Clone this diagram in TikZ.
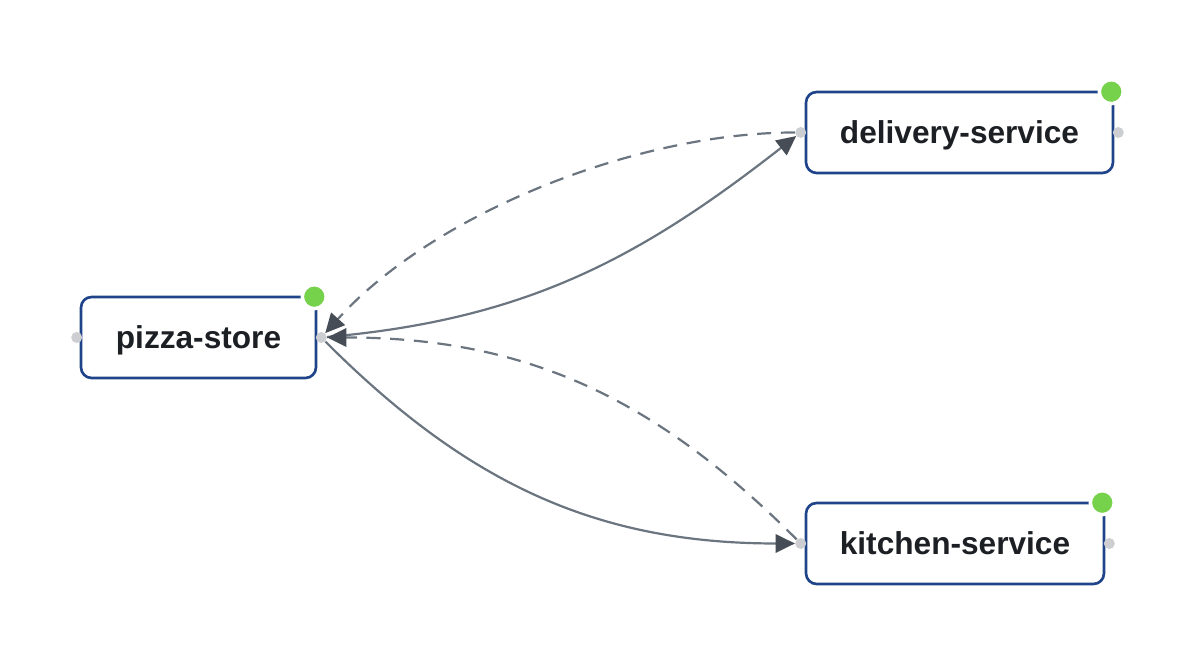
\documentclass[tikz,border=0pt]{standalone}
\usepackage{fontspec}
\setsansfont{Liberation Sans}
\usetikzlibrary{arrows.meta}
\definecolor{boxblue}{HTML}{1F4489}
\definecolor{dotgreen}{HTML}{77D24B}
\definecolor{portgray}{HTML}{CDCED1}
\definecolor{linegray}{HTML}{6B7580}
\definecolor{tipgray}{HTML}{464D56}
\definecolor{textdark}{HTML}{1C1F24}
\begin{document}
\begin{tikzpicture}[x=0.02cm,y=0.02cm,
service/.style={draw=boxblue, line width=1.5pt, rounded corners=6pt, fill=white, minimum height=1.62cm, text height=12pt, text depth=0pt, font=\sffamily\bfseries\fontsize{18}{22}\selectfont, text=textdark},
status/.style={circle, fill=dotgreen, draw=white, line width=2pt, minimum size=0.48cm, inner sep=0pt},
port/.style={circle, fill=portgray, minimum size=0.22cm, inner sep=0pt},
flow/.style={draw=linegray, line width=1.25pt, -{Triangle[length=11pt,width=10.5pt,color=tipgray]}},
reply/.style={flow, dash pattern=on 8pt off 5.5pt}]
\useasboundingbox[fill=white] (0,0) rectangle (1200,668);
\node[service, minimum width=4.7cm] (pizza) at (198.5,330.5) {pizza-store};
\node[service, minimum width=6.14cm] (delivery) at (959.5,535.5) {delivery-service};
\node[service, minimum width=5.96cm] (kitchen) at (955,124.5) {kitchen-service};
\node[port] (pizza-in) at ([xshift=-0.06cm]pizza.west) {};
\node[port] (pizza-out) at ([xshift=0.08cm]pizza.east) {};
\node[port] (delivery-in) at ([xshift=-0.08cm]delivery.west) {};
\node[port] (delivery-out) at ([xshift=0.08cm]delivery.east) {};
\node[port] (kitchen-in) at ([xshift=-0.08cm]kitchen.west) {};
\node[port] (kitchen-out) at ([xshift=0.08cm]kitchen.east) {};
\node[status] (pizza-up) at ([xshift=-0.06cm,yshift=-0.02cm]pizza.north east) {};
\node[status] (delivery-up) at ([xshift=-0.06cm,yshift=-0.02cm]delivery.north east) {};
\node[status] (kitchen-up) at ([xshift=-0.06cm,yshift=-0.02cm]kitchen.north east) {};
\draw[flow] (pizza-out) to[out=5,in=218] (delivery-in);
\draw[flow] (pizza-out) to[out=-45,in=180] (kitchen-in);
\draw[reply] (delivery-in) to[out=180,in=48,looseness=0.8] (pizza-out);
\draw[reply] (kitchen-in) to[out=135,in=0] (pizza-out);
\end{tikzpicture}
\end{document}
